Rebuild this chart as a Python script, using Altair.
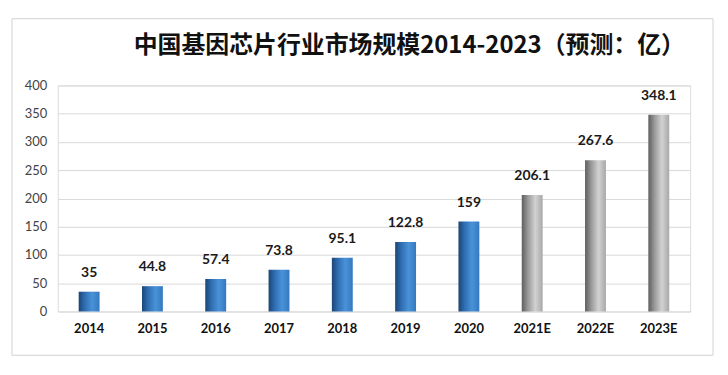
import altair as alt
import pandas as pd

years = ["2014", "2015", "2016", "2017", "2018", "2019", "2020", "2021E", "2022E", "2023E"]
values = [35, 44.8, 57.4, 73.8, 95.1, 122.8, 159, 206.1, 267.6, 348.1]
kinds = ["actual"] * 7 + ["forecast"] * 3
y_ticks = [0, 50, 100, 150, 200, 250, 300, 350, 400]
title_text = "中国基因芯片行业市场规模2014-2023（预测：亿）"

df = pd.DataFrame({"year": years, "value": values, "kind": kinds})

blue = alt.Gradient(
    gradient="linear", x1=0, x2=1, y1=0, y2=0,
    stops=[
        alt.GradientStop(color="#1b4576", offset=0),
        alt.GradientStop(color="#2f6fb3", offset=0.3),
        alt.GradientStop(color="#4a92d8", offset=0.65),
        alt.GradientStop(color="#3479c0", offset=1),
    ],
)
gray = alt.Gradient(
    gradient="linear", x1=0, x2=1, y1=0, y2=0,
    stops=[
        alt.GradientStop(color="#5e5e5e", offset=0),
        alt.GradientStop(color="#9a9a9a", offset=0.3),
        alt.GradientStop(color="#d2d2d2", offset=0.65),
        alt.GradientStop(color="#a8a8a8", offset=1),
    ],
)

x_enc = alt.X(
    "year:N", sort=years, title=None,
    scale=alt.Scale(paddingInner=0.67, paddingOuter=0.33),
    axis=alt.Axis(labelAngle=0, domain=False, ticks=False, labelPadding=11,
                  labelFont="Lato", labelFontWeight="bold", labelFontSize=13,
                  labelColor="#111111"),
)
y_enc = alt.Y(
    "value:Q", title=None,
    scale=alt.Scale(domain=[0, 400], nice=False),
    axis=alt.Axis(values=y_ticks, domain=False, ticks=False, labelPadding=11,
                  labelFont="Lato", labelFontSize=13, labelColor="#444444",
                  gridColor="#d9d9d9", gridWidth=1),
)

single = alt.Data(values=[{"t": title_text}])

frame = alt.Chart(single).mark_rect(
    fillOpacity=0, stroke="#d2d2d2", strokeWidth=1
).encode(
    x=alt.value(-46), x2=alt.value(658), y=alt.value(-67), y2=alt.value(271)
)

title = alt.Chart(single).mark_text(
    font="Noto Sans CJK SC", fontWeight="bold", fontSize=24, color="#111111",
    align="center", baseline="middle"
).encode(x=alt.value(353), y=alt.value(-40), text="t:N")

base = alt.Chart(df).encode(x=x_enc, y=y_enc)

bars_actual = base.mark_bar(color=blue).transform_filter(alt.datum.kind == "actual")
bars_fore = base.mark_bar(color=gray).transform_filter(alt.datum.kind == "forecast")

labels = base.mark_text(
    font="Lato", fontWeight="bold", fontSize=14, color="#1a1a1a",
    baseline="middle", dy=-19
).encode(text=alt.Text("value:Q"))

chart = alt.layer(frame, title, bars_actual, bars_fore, labels).properties(
    width=635, height=227,
    autosize=alt.AutoSizeParams(type="none"),
    padding={"left": 50, "top": 77, "right": 30, "bottom": 55},
).configure_view(stroke=None).configure(background="white")

chart.save("out.html", embed_options={"renderer": "svg", "actions": False})
